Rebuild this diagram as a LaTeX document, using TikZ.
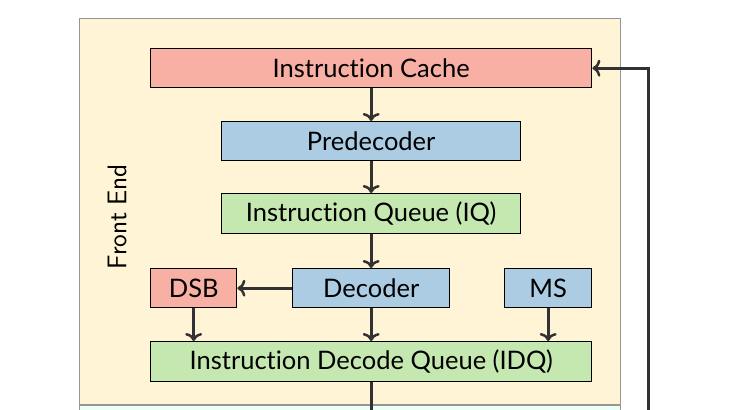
\documentclass[tikz,border=0pt]{standalone}
\usepackage{fontspec}
\setmainfont{Lato}[Ligatures=CommonOff]
\usetikzlibrary{arrows.meta}
\definecolor{feyellow}{RGB}{255,245,214}
\definecolor{mint}{RGB}{235,255,245}
\definecolor{salmon}{RGB}{248,176,165}
\definecolor{skyblue}{RGB}{171,204,227}
\definecolor{leaf}{RGB}{197,232,176}
\definecolor{arrowgray}{RGB}{50,50,50}
\definecolor{framegray}{RGB}{150,150,150}
\tikzset{
  unit/.style={draw=black, line width=1.4pt, inner sep=0pt, anchor=north west,
    font=\fontsize{25.5}{28}\selectfont},
  conn/.style={draw=arrowgray, line width=3pt, -{To[length=8pt,width=17pt,line width=2.5pt]}},
  stage/.style={draw=framegray, line width=1pt},
}
\begin{document}
\begin{tikzpicture}[x=1pt,y=-1pt]
\useasboundingbox (0,0) rectangle (751,409);
\fill[white] (0,0) rectangle (751,409);
% containers
\draw[stage, fill=feyellow] (79,19) rectangle (620,404);
\draw[stage, fill=mint] (79,405) rectangle (620,480);
\node[rotate=90, font=\sffamily\fontsize{27}{30}\selectfont] (fe) at (117,217) {Front\hspace{0.25em}End};
% units
\node[unit, fill=salmon, minimum width=441pt, minimum height=39pt] (ic) at (150,48) {Instruction Cache};
\node[unit, fill=skyblue, minimum width=299pt, minimum height=39pt] (pd) at (221,121) {Predecoder};
\node[unit, fill=leaf, minimum width=299pt, minimum height=40pt] (iq) at (221,193) {Instruction Queue (IQ)};
\node[unit, fill=salmon, minimum width=86pt, minimum height=39pt] (dsb) at (150,268) {DSB};
\node[unit, fill=skyblue, minimum width=157pt, minimum height=39pt] (dec) at (292,268) {Decoder};
\node[unit, fill=skyblue, minimum width=87pt, minimum height=39pt] (ms) at (504,268) {MS};
\node[unit, fill=leaf, minimum width=441pt, minimum height=40pt] (idq) at (150,341) {Instruction Decode Queue (IDQ)};
\coordinate (out) at (371,440);
\coordinate (fb) at (648,440);
% connectors
\draw[conn] (ic.south -| pd.north) -- (pd.north);
\draw[conn] (pd) -- (iq);
\draw[conn] (iq) -- (dec);
\draw[conn] (dec) -- (dsb);
\draw[conn] (dsb) -- (dsb |- idq.north);
\draw[conn] (dec) -- (dec |- idq.north);
\draw[conn] (ms) -- (ms |- idq.north);
\draw[draw=arrowgray, line width=3pt] (idq.south -| out) -- (out);
\draw[conn] (fb) |- (ic.east);
\end{tikzpicture}
\end{document}
